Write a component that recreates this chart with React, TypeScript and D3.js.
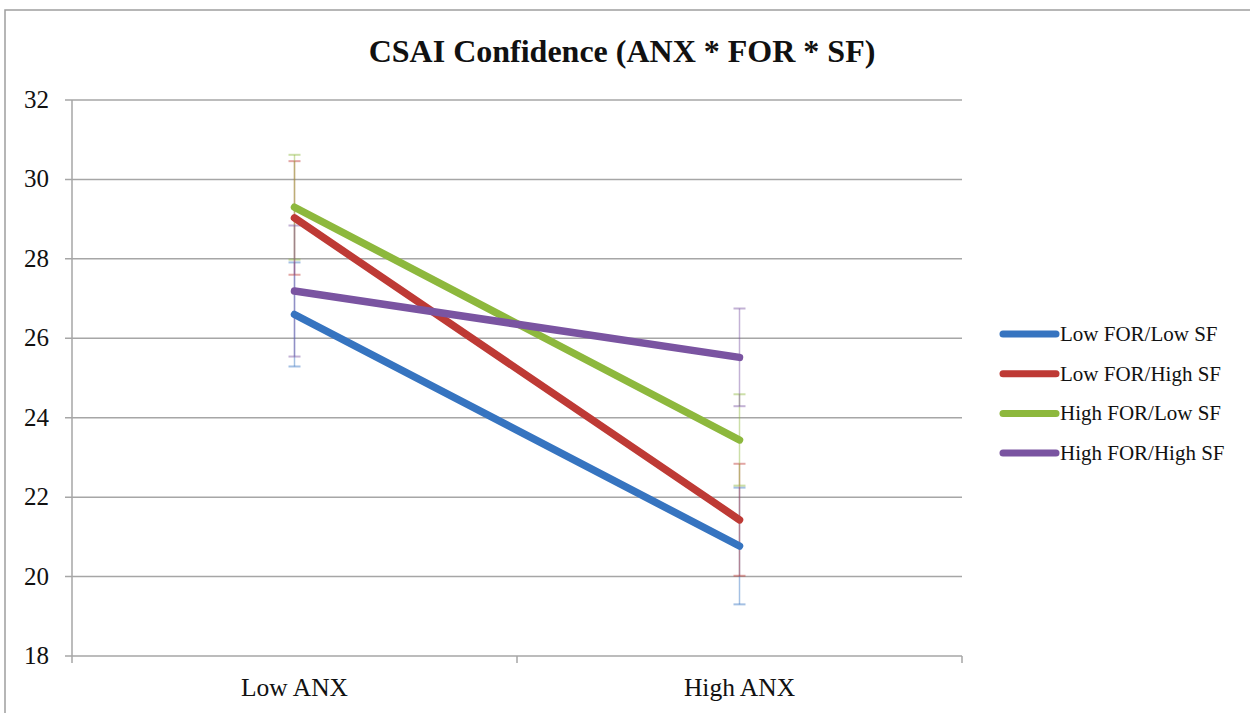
import React from "react";
import * as d3 from "d3";

const categories = ["Low ANX", "High ANX"];
const seriesNames = ["Low FOR/Low SF", "Low FOR/High SF", "High FOR/Low SF", "High FOR/High SF"];
const seriesColors = ["#3674C0", "#BE3A35", "#8DB83D", "#7A54A1"];
const meanLowFORLowSF = [26.6, 20.77];
const meanLowFORHighSF = [29.03, 21.43];
const meanHighFORLowSF = [29.3, 23.44];
const meanHighFORHighSF = [27.19, 25.52];
const errLowFORLowSF = [1.31, 1.47];
const errLowFORHighSF = [1.43, 1.41];
const errHighFORLowSF = [1.32, 1.15];
const errHighFORHighSF = [1.65, 1.23];
const yTicks = [18, 20, 22, 24, 26, 28, 30, 32];

const means = [meanLowFORLowSF, meanLowFORHighSF, meanHighFORLowSF, meanHighFORHighSF];
const errs = [errLowFORLowSF, errLowFORHighSF, errHighFORLowSF, errHighFORHighSF];

const W = 1250;
const H = 713;
const plot = { left: 72, right: 962, top: 100, bottom: 656 };
const serif = "Liberation Serif";
const gridColor = "#A6A6A6";

export default function App() {
  const x = d3.scaleBand<string>().domain(categories).range([plot.left, plot.right]);
  const y = d3.scaleLinear().domain([18, 32]).range([plot.bottom, plot.top]);
  const cx = (c: string) => (x(c) as number) + x.bandwidth() / 2;
  const line = d3
    .line<number>()
    .x((_, i) => cx(categories[i]))
    .y((d) => y(d));
  const capHalf = 6;
  const catEdges = [plot.left, ...categories.map((c) => (x(c) as number) + x.bandwidth())];

  return (
    <svg width={W} height={H} style={{ position: "absolute", left: 0, top: 0, background: "#fff" }}>
      <rect x={5} y={10} width={1300} height={760} fill="#fff" stroke="#9E9E9E" strokeWidth={1.5} />
      <text x={622} y={62} textAnchor="middle" fontSize={32} fontWeight="bold" fill="#111" style={{ fontFamily: serif }}>
        CSAI Confidence (ANX * FOR * SF)
      </text>

      {yTicks.map((t) => (
        <g key={t}>
          <line x1={plot.left - 7} x2={plot.right} y1={y(t)} y2={y(t)} stroke={gridColor} strokeWidth={1.5} />
          <text x={49} y={y(t) + 8} textAnchor="end" fontSize={25} fill="#111" style={{ fontFamily: serif }}>
            {t}
          </text>
        </g>
      ))}
      <line x1={plot.left} x2={plot.left} y1={plot.top} y2={plot.bottom} stroke={gridColor} strokeWidth={1.5} />
      {catEdges.map((e, i) => (
        <line key={i} x1={e} x2={e} y1={plot.bottom} y2={plot.bottom + 7} stroke={gridColor} strokeWidth={1.5} />
      ))}
      {categories.map((c) => (
        <text key={c} x={cx(c)} y={696} textAnchor="middle" fontSize={25.5} fill="#111" style={{ fontFamily: serif }}>
          {c}
        </text>
      ))}

      {means.map((m, si) => (
        <g key={si} stroke={seriesColors[si]} strokeOpacity={0.45} strokeWidth={1.5}>
          {m.map((v, i) => {
            const px = cx(categories[i]);
            const hi = y(v + errs[si][i]);
            const lo = y(v - errs[si][i]);
            return (
              <g key={i}>
                <line x1={px} x2={px} y1={hi} y2={lo} />
                <line x1={px - capHalf} x2={px + capHalf} y1={hi} y2={hi} strokeWidth={2} />
                <line x1={px - capHalf} x2={px + capHalf} y1={lo} y2={lo} strokeWidth={2} />
              </g>
            );
          })}
        </g>
      ))}

      {means.map((m, si) => (
        <path
          key={si}
          d={line(m) as string}
          fill="none"
          stroke={seriesColors[si]}
          strokeWidth={7.5}
          strokeLinecap="round"
          strokeLinejoin="round"
        />
      ))}

      {seriesNames.map((n, i) => {
        const ly = 334 + i * 39.7;
        return (
          <g key={n}>
            <line x1={1003} x2={1056} y1={ly} y2={ly} stroke={seriesColors[i]} strokeWidth={7} strokeLinecap="round" />
            <text x={1060} y={ly + 7} fontSize={21} fill="#111" style={{ fontFamily: serif }}>
              {n}
            </text>
          </g>
        );
      })}
    </svg>
  );
}
